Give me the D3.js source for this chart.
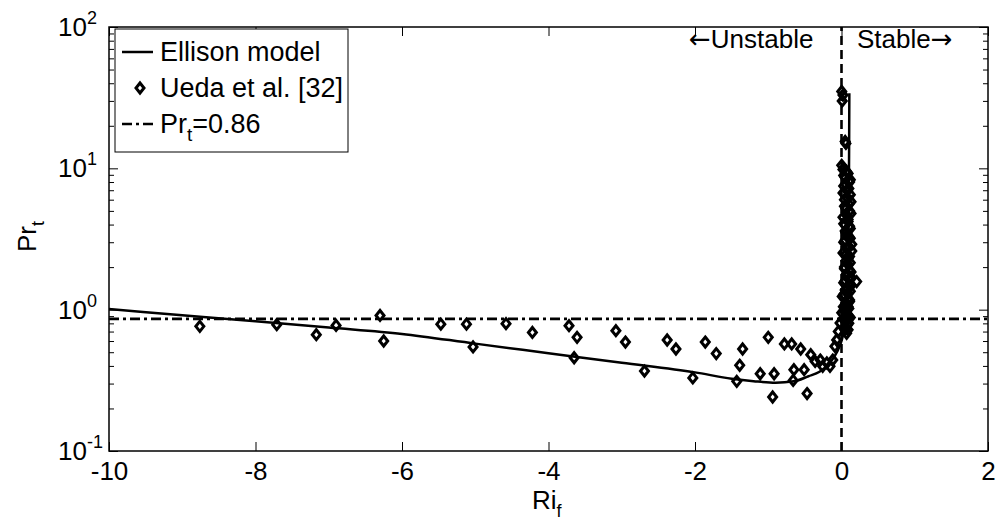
<!DOCTYPE html>
<html><head><meta charset="utf-8">
<script src="https://cdn.jsdelivr.net/npm/d3@7"></script>
<style>
html,body{margin:0;padding:0;background:#fff;}
svg{display:block;}
text{font-family:"Liberation Sans",Arial,sans-serif;fill:#000;}
</style></head>
<body>
<svg id="chart" width="1001" height="522"></svg>
<script>
// ---- data ----
const xTicks = [-10, -8, -6, -4, -2, 0, 2];
const xTickLabels = ["-10", "-8", "-6", "-4", "-2", "0", "2"];
const yTicks = [0.1, 1, 10, 100];
const yTickExponents = ["-1", "0", "1", "2"];
const prtConst = 0.86;

// Ellison model curve (Ri_f, Pr_t)
const ellisonRi = [-10, -9, -8, -7, -6, -5, -4, -3, -2, -1.5, -1.2, -0.9, -0.65, -0.45, -0.3, -0.15, -0.06, 0, 0.04, 0.07, 0.085, 0.095, 0.1, 0.104, 0.107];
const ellisonPr = [1.01, 0.914, 0.827, 0.747, 0.674, 0.575, 0.492, 0.421, 0.36, 0.325, 0.312, 0.304, 0.311, 0.338, 0.364, 0.425, 0.504, 0.60, 0.734, 0.95, 1.6, 3.0, 6.0, 14, 34];

// Ueda et al. [32] measurements
const uedaRi = [-8.76, -7.71, -7.17, -6.9, -6.30, -6.25, -5.47, -5.12, -5.03, -4.58, -4.22, -3.72, -3.61, -3.65, -3.08, -2.95, -2.69, -2.38, -2.26, -2.03,
  -1.86, -1.71, -1.35, -1.39, -1.43, -1.0, -1.11, -0.92, -0.94, -0.78, -0.68, -0.557, -0.65, -0.51, -0.66, -0.47, -0.42, -0.36, -0.29, -0.257, -0.2, -0.157, -0.12, -0.09, -0.066, -0.044, -0.02, 0.003, 0.048, 0.025, 0.07, 0.207,
  0.003, 0.02, 0.01, 0.05, 0.06, 0.003,
  0.02, 0.09, 0.05, 0.11, 0.03, 0.08, 0.12, 0.04, 0.1, 0.06, 0.13, 0.02, 0.09, 0.11, 0.05, 0.08, 0.12, 0.03, 0.1, 0.14, 0.06, 0.09, 0.12, 0.04, 0.11, 0.07, 0.13, 0.05, 0.1, 0.08, 0.12, 0.03, 0.09, 0.11, 0.06, 0.1, 0.04, 0.08, 0.12, 0.07, 0.1, 0.05, 0.09,
  0.07, 0.03, 0.12, 0.06, 0.1, 0.02, 0.08, 0.13, 0.04, 0.11, 0.07, 0.09, 0.03, 0.12, 0.06, 0.1, 0.05, 0.14, 0.08, 0.02, 0.11, 0.06, 0.09, 0.04, 0.13, 0.07, 0.1, 0.03, 0.12, 0.05, 0.08, 0.01, 0.11, 0.06, 0.09, 0.04, 0.07, 0.1, 0.02, 0.08];
const uedaPr = [0.762, 0.783, 0.665, 0.774, 0.91, 0.60, 0.79, 0.79, 0.545, 0.796, 0.69, 0.77, 0.637, 0.457, 0.71, 0.59, 0.368, 0.61, 0.527, 0.329,
  0.59, 0.489, 0.527, 0.404, 0.311, 0.637, 0.352, 0.352, 0.241, 0.572, 0.572, 0.527, 0.376, 0.376, 0.316, 0.255, 0.48, 0.43, 0.44, 0.397, 0.42, 0.397, 0.44, 0.55, 0.61, 0.70, 0.805, 0.95, 0.72, 1.05, 0.68, 1.58,
  35, 33, 30, 15.5, 15, 10.5,
  9.8, 9.2, 8.6, 8.0, 7.5, 7.0, 6.5, 6.0, 5.6, 5.2, 4.8, 4.5, 4.2, 3.9, 3.6, 3.4, 3.2, 3.0, 2.8, 2.6, 2.45, 2.3, 2.15, 2.0, 1.9, 1.8, 1.7, 1.6, 1.5, 1.42, 1.35, 1.28, 1.2, 1.14, 1.08, 1.02, 0.97, 0.92, 0.88, 0.84, 0.8, 0.76, 0.72,
  9.5, 8.9, 8.3, 7.7, 7.2, 6.7, 6.2, 5.8, 5.4, 5.0, 4.65, 4.35, 4.05, 3.75, 3.5, 3.3, 3.1, 2.9, 2.7, 2.52, 2.38, 2.22, 2.08, 1.95, 1.85, 1.75, 1.65, 1.55, 1.46, 1.38, 1.31, 1.24, 1.17, 1.11, 1.05, 0.99, 0.94, 0.9, 0.86, 0.78];

const legendLabels = ["Ellison model", "Ueda et al. [32]"];

// ---- layout ----
const L = 109, R = 988, T = 27, B = 451;
const svg = d3.select("#chart");
const x = d3.scaleLinear().domain([-10, 2]).range([L, R]);
const y = d3.scaleLog().domain([0.1, 100]).range([B, T]);

const minorY = [];
for (let d = 0.1; d < 100; d *= 10) for (let k = 2; k <= 9; k++) minorY.push(d * k);

function styleAxis(g) {
  g.select(".domain").remove();
  g.selectAll("line").attr("stroke", "#000").attr("stroke-width", 1);
}

svg.append("defs").append("clipPath").attr("id", "clip")
  .append("rect").attr("x", L).attr("y", T).attr("width", R - L).attr("height", B - T);

// axes ticks (inside)
svg.append("g").attr("transform", `translate(0,${B})`)
  .call(d3.axisBottom(x).tickValues(xTicks).tickSize(-9).tickPadding(11).tickFormat((d, i) => xTickLabels[i]))
  .call(styleAxis)
  .call(g => g.selectAll("text").attr("font-size", 26).attr("font-family", "Liberation Sans, Arial").attr("fill", "#000"));
svg.append("g").attr("transform", `translate(0,${T})`)
  .call(d3.axisTop(x).tickValues(xTicks).tickSize(-9).tickFormat(""))
  .call(styleAxis);
svg.append("g").attr("transform", `translate(${L},0)`)
  .call(d3.axisLeft(y).tickValues(yTicks).tickSize(-9).tickFormat(""))
  .call(styleAxis);
svg.append("g").attr("transform", `translate(${L},0)`)
  .call(d3.axisLeft(y).tickValues(minorY).tickSize(-5).tickFormat(""))
  .call(styleAxis);
svg.append("g").attr("transform", `translate(${R},0)`)
  .call(d3.axisRight(y).tickValues(yTicks).tickSize(-9).tickFormat(""))
  .call(styleAxis);
svg.append("g").attr("transform", `translate(${R},0)`)
  .call(d3.axisRight(y).tickValues(minorY).tickSize(-5).tickFormat(""))
  .call(styleAxis);

// y tick labels 10^n
const yl = svg.append("g");
yTicks.forEach((v, i) => {
  const t = yl.append("text").attr("x", 58).attr("y", y(v) + 9).attr("font-size", 26);
  t.append("tspan").text("10");
  t.append("tspan").attr("font-size", 18).attr("dy", -12).text(yTickExponents[i]);
});

// reference lines
const plot = svg.append("g").attr("clip-path", "url(#clip)");
plot.append("line")
  .attr("x1", x(0)).attr("x2", x(0)).attr("y1", B).attr("y2", T)
  .attr("stroke", "#000").attr("stroke-width", 2.6).attr("stroke-dasharray", "9,5");
plot.append("line")
  .attr("x1", L).attr("x2", R).attr("y1", y(prtConst)).attr("y2", y(prtConst))
  .attr("stroke", "#000").attr("stroke-width", 2.6).attr("stroke-dasharray", "10,4,3,4");

// Ellison curve
const curveData = ellisonRi.map((r, i) => [r, ellisonPr[i]]);
plot.append("path").datum(curveData)
  .attr("d", d3.line().x(d => x(d[0])).y(d => y(d[1])).curve(d3.curveMonotoneX))
  .attr("fill", "none").attr("stroke", "#000").attr("stroke-width", 2.5);

// Ueda markers (hollow diamonds)
const diamond = "M0,-5L4,0L0,5L-4,0Z";
const ueda = uedaRi.map((r, i) => [r, uedaPr[i]]);
plot.selectAll("path.pt").data(ueda).enter().append("path").attr("class", "pt")
  .attr("d", diamond)
  .attr("transform", d => `translate(${x(d[0])},${y(d[1])})`)
  .attr("fill", "none").attr("stroke", "#000").attr("stroke-width", 3).attr("stroke-linejoin", "miter");

// frame
svg.append("rect").attr("x", L).attr("y", T).attr("width", R - L).attr("height", B - T)
  .attr("fill", "none").attr("stroke", "#000").attr("stroke-width", 1.5);

// annotations
const a1 = svg.append("text").attr("x", 689).attr("y", 48).attr("font-family", "Lato, 'Open Sans', sans-serif").attr("font-size", 26);
a1.append("tspan").attr("font-family", "DejaVu Sans").text("\u2190");
a1.append("tspan").text("Unstable");
const a2 = svg.append("text").attr("x", 857).attr("y", 48).attr("font-family", "Lato, 'Open Sans', sans-serif").attr("font-size", 26);
a2.append("tspan").text("Stable");
a2.append("tspan").attr("font-family", "DejaVu Sans").text("\u2192");

// legend
const lg = svg.append("g");
lg.append("rect").attr("x", 115).attr("y", 29).attr("width", 233).attr("height", 123)
  .attr("fill", "#fff").attr("stroke", "#000").attr("stroke-width", 1);
const rows = [52, 88, 124];
lg.append("line").attr("x1", 122).attr("x2", 153).attr("y1", rows[0]).attr("y2", rows[0])
  .attr("stroke", "#000").attr("stroke-width", 2.5);
lg.append("path").attr("d", diamond).attr("transform", `translate(140,${rows[1]})`)
  .attr("fill", "none").attr("stroke", "#000").attr("stroke-width", 3);
lg.append("line").attr("x1", 122).attr("x2", 153).attr("y1", rows[2]).attr("y2", rows[2])
  .attr("stroke", "#000").attr("stroke-width", 2.5).attr("stroke-dasharray", "10,4,3,4");
lg.append("text").attr("x", 160).attr("y", rows[0] + 9).attr("font-size", 27).text(legendLabels[0]);
lg.append("text").attr("x", 160).attr("y", rows[1] + 9).attr("font-size", 27).text(legendLabels[1]);
const t3 = lg.append("text").attr("x", 160).attr("y", rows[2] + 9).attr("font-size", 27);
t3.append("tspan").text("Pr");
t3.append("tspan").attr("font-size", 19).attr("dy", 8).text("t");
t3.append("tspan").attr("dy", -8).text("=" + prtConst);

// axis labels
const xl = svg.append("text").attr("x", 532).attr("y", 509).attr("font-size", 26);
xl.append("tspan").text("Ri");
xl.append("tspan").attr("font-size", 18).attr("dy", 8).text("f");

const ylab = svg.append("text").attr("transform", "translate(36,252) rotate(-90)").attr("font-size", 26);
ylab.append("tspan").text("Pr");
ylab.append("tspan").attr("font-size", 18).attr("dy", 8).text("t");
</script>
</body></html>
